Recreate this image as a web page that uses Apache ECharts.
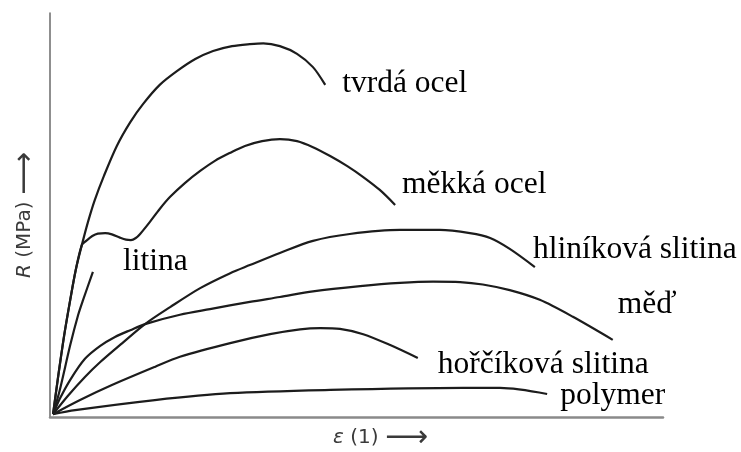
<!DOCTYPE html>
<html>
<head>
<meta charset="utf-8">
<script src="https://cdn.jsdelivr.net/npm/echarts@6/dist/echarts.min.js"></script>
<style>
  html, body { margin: 0; padding: 0; background: #fff; }
  #chart { width: 741px; height: 452px; }
</style>
</head>
<body>
<div id="chart"></div>
<script>
// Schematic stress–strain curves (strain ε and stress R in relative units, 0–100)
const materials = ['tvrdá ocel', 'měkká ocel', 'litina', 'hliníková slitina', 'měď', 'hořčíková slitina', 'polymer'];

const tvrdaOcel = [
  [0.5, 0.7], [1.3, 9.7], [2.3, 20.1], [3.3, 29.0], [4.2, 36.4], [5.2, 42.6], [6.2, 48.3],
  [7.3, 53.7], [8.8, 59.7], [10.9, 67.1], [13.1, 73.0], [15.2, 77.5], [17.9, 82.2],
  [20.7, 85.6], [23.7, 88.6], [26.6, 90.6], [29.7, 91.8], [32.6, 92.3], [34.8, 92.5],
  [37.5, 91.8], [40.3, 89.9], [42.9, 86.6], [44.9, 82.2]
];
const mekkaOcel = [
  [0.5, 0.7], [1.3, 9.7], [2.3, 20.1], [3.3, 29.0], [4.2, 36.4], [5.2, 42.6], [5.9, 43.6],
  [6.9, 44.8], [7.8, 45.4], [9.0, 45.5], [10.1, 45.2], [11.4, 44.4], [12.4, 43.9],
  [13.2, 43.8], [14.0, 44.3], [14.7, 45.3], [16.3, 48.3], [17.9, 51.5], [19.6, 54.5],
  [22.0, 57.9], [24.5, 60.9], [26.9, 63.4], [29.4, 65.4], [31.8, 67.1], [34.6, 68.3],
  [37.5, 68.8], [40.3, 68.3], [42.9, 66.8], [45.7, 64.6], [48.5, 62.1], [51.1, 59.4],
  [53.8, 56.2], [56.3, 52.5]
];
const litina = [
  [0.5, 0.7], [1.6, 6.7], [3.3, 17.8], [4.6, 25.3], [5.4, 29.0], [7.0, 35.9]
];
const hlinikovaSlitina = [
  [0.5, 0.7], [2.9, 5.2], [5.7, 9.9], [8.2, 13.6], [11.8, 18.3], [15.5, 23.0], [19.6, 27.2],
  [24.5, 31.9], [29.4, 35.6], [32.6, 37.6], [37.5, 40.6], [42.9, 43.6], [48.9, 45.3],
  [57.1, 46.3], [63.6, 46.3], [68.5, 45.5], [71.8, 44.3], [75.0, 41.6], [79.1, 37.1]
];
const med = [
  [0.5, 0.7], [1.6, 4.5], [3.3, 9.2], [5.7, 14.4], [8.2, 17.6], [10.6, 19.8], [13.1, 21.5],
  [15.5, 23.0], [21.2, 25.3], [26.1, 26.7], [32.6, 28.5], [37.5, 29.7], [42.9, 31.1],
  [50.6, 32.4], [57.1, 33.2], [62.5, 33.5], [66.9, 33.4], [70.6, 32.8], [75.0, 31.4],
  [79.9, 29.0], [85.3, 24.8], [91.8, 19.1]
];
const horcikovaSlitina = [
  [0.5, 0.7], [4.9, 4.2], [10.1, 7.9], [17.1, 12.4], [21.2, 14.9], [29.4, 18.3], [35.9, 20.5],
  [40.8, 21.7], [44.1, 22.0], [47.3, 21.8], [51.1, 20.5], [55.5, 17.8], [60.0, 14.6]
];
const polymer = [
  [0.5, 0.7], [4.1, 1.7], [17.1, 4.2], [29.4, 5.9], [45.7, 6.7], [67.4, 7.2], [73.4, 7.2], [81.1, 5.7]
];

const curves = [tvrdaOcel, mekkaOcel, litina, hlinikovaSlitina, med, horcikovaSlitina, polymer];
// where each material name sits relative to the end of its curve
const labelOffsets = [[12, -1], [2, -20], [25, -10], [-7, -17], [0, -35], [15, 7], [8, 2]];

const chart = echarts.init(document.getElementById('chart'), null, { renderer: 'canvas' });

const axisNameFont = { fontFamily: 'DejaVu Sans', fontSize: 20, lineHeight: 22, color: '#3a3a3a' };
const axisRich = {
  it: Object.assign({}, axisNameFont, { fontStyle: 'italic' }),
  arrow: Object.assign({}, axisNameFont, { fontSize: 30 })
};

chart.setOption({
  animation: false,
  backgroundColor: '#ffffff',
  grid: { left: 50, right: 78, top: 13, bottom: 35, outerBoundsMode: 'none', containLabel: false },
  xAxis: {
    type: 'value', min: 0, max: 100,
    axisLine: { show: true, lineStyle: { color: '#8a8a8a', width: 2.5 } },
    axisTick: { show: false }, axisLabel: { show: false }, splitLine: { show: false },
    name: '{it|ε} (1) {arrow|⟶}',
    nameLocation: 'middle', nameGap: 10,
    nameTextStyle: Object.assign({}, axisNameFont, {
      padding: [0, 0, 0, 48],
      rich: axisRich
    })
  },
  yAxis: {
    type: 'value', min: 0, max: 100,
    axisLine: { show: true, lineStyle: { color: '#6a6a6a', width: 1.5 } },
    axisTick: { show: false }, axisLabel: { show: false }, splitLine: { show: false },
    name: '{it|R} (MPa) {arrow|⟶}',
    nameLocation: 'middle', nameGap: 14, nameRotate: 90,
    nameTextStyle: Object.assign({}, axisNameFont, { rich: axisRich })
  },
  series: materials.map((name, i) => ({
    name: name,
    type: 'line',
    data: curves[i],
    smooth: 0.3,
    showSymbol: false,
    lineStyle: { color: '#1c1c1c', width: 2.2 },
    endLabel: {
      show: true,
      formatter: name,
      offset: labelOffsets[i],
      distance: 5,
      fontFamily: 'Liberation Serif',
      fontSize: 31.5,
      color: '#000'
    },
    labelLayout: { hideOverlap: false }
  }))
});
</script>
</body>
</html>
